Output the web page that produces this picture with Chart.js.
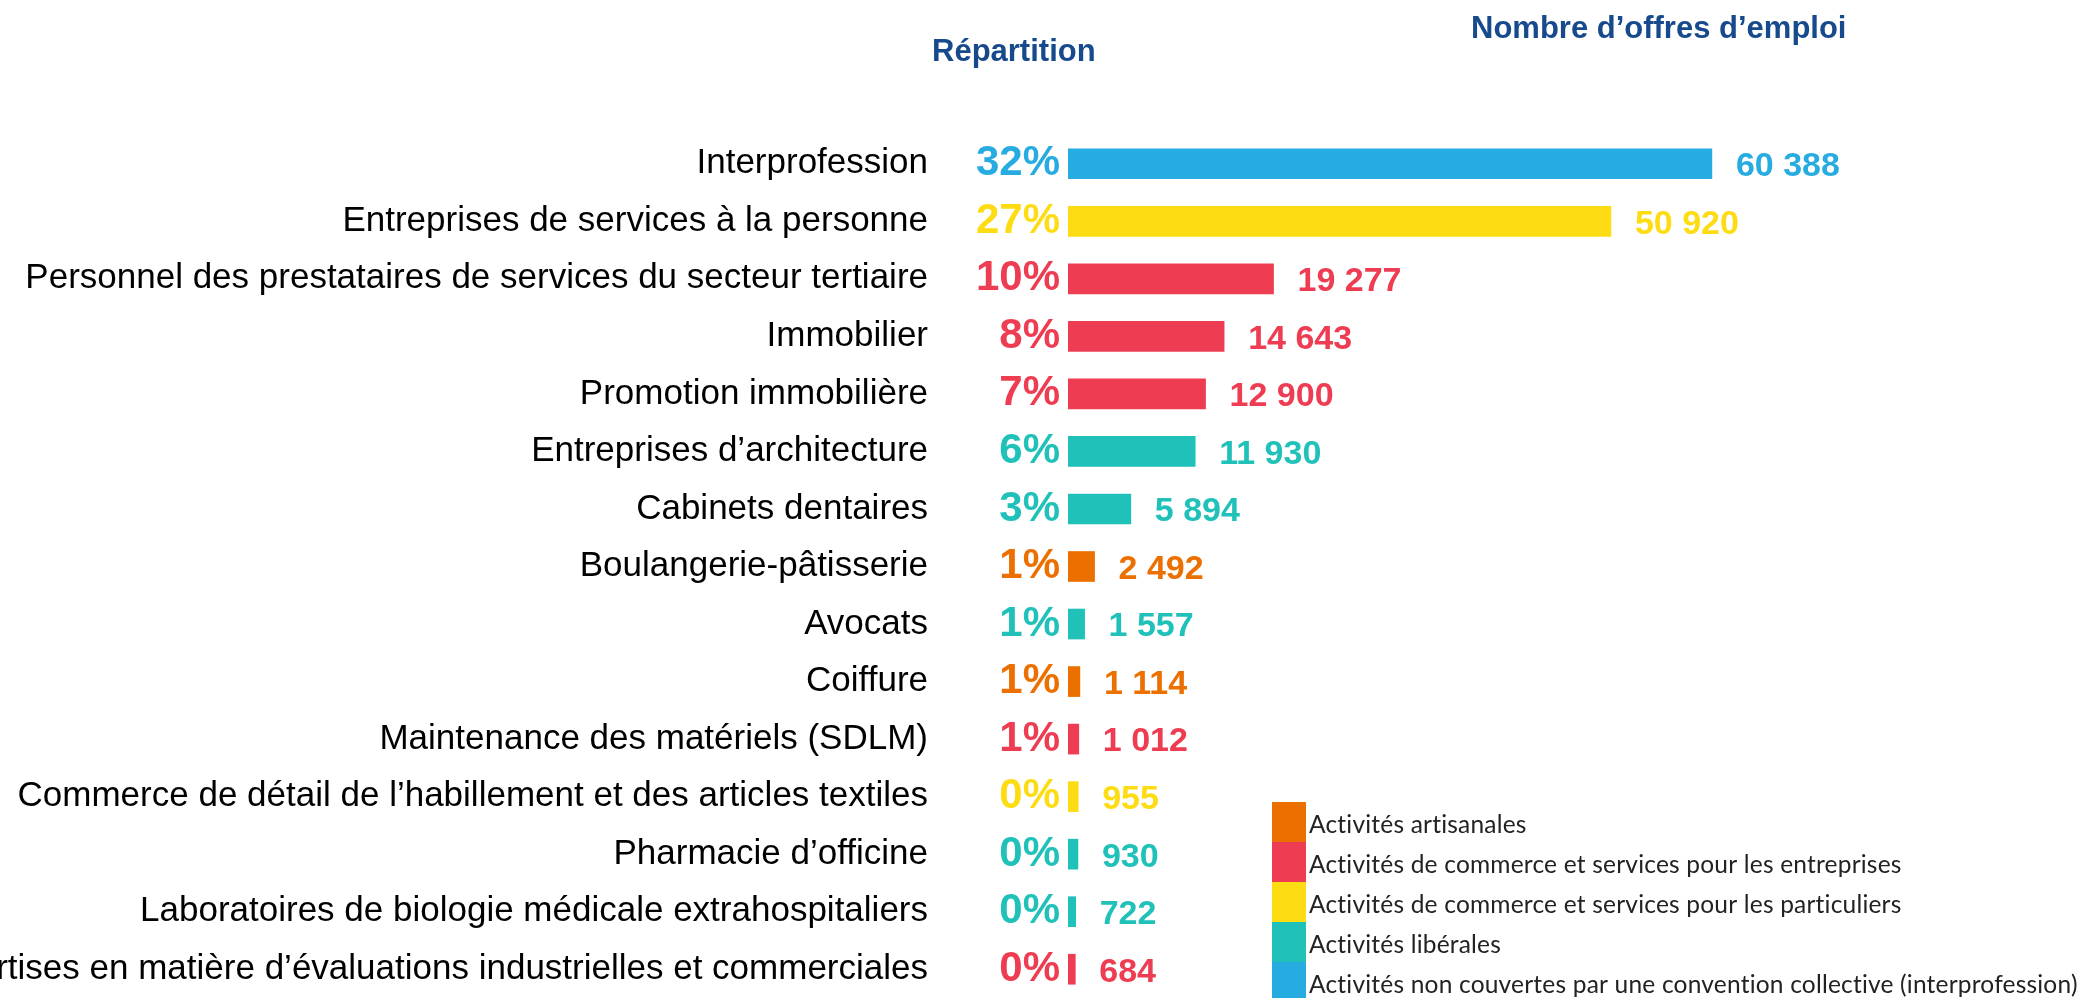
<!DOCTYPE html>
<html lang="fr">
<head>
<meta charset="utf-8">
<script src="https://cdn.jsdelivr.net/npm/chart.js@4.4.1/dist/chart.umd.min.js"></script>
<style>
  html, body { margin: 0; padding: 0; background: #ffffff; }
  #wrap { position: relative; width: 2078px; height: 998px; }
  canvas { display: block; }
</style>
</head>
<body>
<div id="wrap"><canvas id="c" width="2078" height="998"></canvas></div>
<script>
const categories = [
  "Interprofession",
  "Entreprises de services à la personne",
  "Personnel des prestataires de services du secteur tertiaire",
  "Immobilier",
  "Promotion immobilière",
  "Entreprises d’architecture",
  "Cabinets dentaires",
  "Boulangerie-pâtisserie",
  "Avocats",
  "Coiffure",
  "Maintenance des matériels (SDLM)",
  "Commerce de détail de l’habillement et des articles textiles",
  "Pharmacie d’officine",
  "Laboratoires de biologie médicale extrahospitaliers",
  "Expertises en matière d’évaluations industrielles et commerciales"
];
const offers = [60388, 50920, 19277, 14643, 12900, 11930, 5894, 2492, 1557, 1114, 1012, 955, 930, 722, 684];
const shares = ["32%", "27%", "10%", "8%", "7%", "6%", "3%", "1%", "1%", "1%", "1%", "0%", "0%", "0%", "0%"];
const groupOfCategory = [4, 2, 1, 1, 1, 3, 3, 0, 3, 0, 1, 2, 3, 3, 1];
const groupNames = [
  "Activités artisanales",
  "Activités de commerce et services pour les entreprises",
  "Activités de commerce et services pour les particuliers",
  "Activités libérales",
  "Activités non couvertes par une convention collective (interprofession)"
];
const groupColors = ["#EC7000", "#EE3D52", "#FEDC14", "#20C1B9", "#27ACE1"];
const headerShare = "Répartition";
const headerOffers = "Nombre d’offres d’emploi";

const colorOf = i => groupColors[groupOfCategory[i]];
const fmt = v => String(v).replace(/\B(?=(\d{3})+(?!\d))/g, " ");
const SANS = "'Liberation Sans', Arial, sans-serif";

const extras = {
  id: "extras",
  afterDatasetsDraw(chart) {
    const ctx = chart.ctx;
    const meta = chart.getDatasetMeta(0);
    ctx.save();
    ctx.font = "bold 34px " + SANS;
    ctx.textAlign = "left";
    ctx.textBaseline = "middle";
    meta.data.forEach((bar, i) => {
      ctx.fillStyle = colorOf(i);
      ctx.fillText(fmt(offers[i]), bar.x + 24, bar.y + 3);
    });
    ctx.restore();
  },
  afterDraw(chart) {
    const ctx = chart.ctx;
    ctx.save();
    ctx.fillStyle = "#174A8C";
    ctx.font = "bold 31px " + SANS;
    ctx.textAlign = "left";
    ctx.textBaseline = "alphabetic";
    ctx.fillText(headerShare, 932, 61);
    ctx.fillText(headerOffers, 1471, 38);
    // legend
    const lx = 1272, ly = 802, sw = 34, sh = 40;
    ctx.font = "24.5px Lato, 'Open Sans', sans-serif";
    if ("letterSpacing" in ctx) ctx.letterSpacing = "0.2px";
    ctx.textBaseline = "middle";
    groupNames.forEach((name, k) => {
      ctx.fillStyle = groupColors[k];
      ctx.fillRect(lx, ly + k * sh, sw, sh);
      ctx.fillStyle = "#222222";
      ctx.fillText(name, lx + sw + 3, ly + k * sh + sh / 2 + 3);
    });
    ctx.restore();
  }
};

function fixVertical(width) {
  return function (scale) {
    scale.width = width;
    scale.paddingTop = 0;
    scale.paddingBottom = 0;
  };
}

new Chart(document.getElementById("c"), {
  type: "bar",
  data: {
    labels: categories,
    datasets: [{
      data: offers,
      backgroundColor: categories.map((_, i) => colorOf(i)),
      borderWidth: 0,
      barThickness: 30,
      yAxisID: "y",
      xAxisID: "x"
    }]
  },
  options: {
    indexAxis: "y",
    responsive: false,
    animation: false,
    layout: { padding: { top: 135, bottom: 0, left: 0, right: 157 } },
    plugins: { legend: { display: false }, tooltip: { enabled: false }, title: { display: false } },
    scales: {
      x: { display: false, min: 0, max: 80000 },
      y: {
        type: "category",
        position: "left",
        weight: 10,
        offset: true,
        grid: { display: false, drawTicks: false },
        border: { display: false },
        ticks: {
          autoSkip: false,
          padding: 30,
          color: "#000000",
          font: { family: SANS, size: 35 }
        },
        afterFit: fixVertical(958)
      },
      yPct: {
        type: "category",
        labels: shares,
        position: "left",
        weight: 0,
        offset: true,
        grid: { display: false, drawTicks: false },
        border: { display: false },
        ticks: {
          autoSkip: false,
          padding: 8,
          color: c => colorOf(c.index),
          font: { family: SANS, size: 42, weight: "bold" }
        },
        afterFit: fixVertical(110)
      }
    }
  },
  plugins: [extras]
});
</script>
</body>
</html>
